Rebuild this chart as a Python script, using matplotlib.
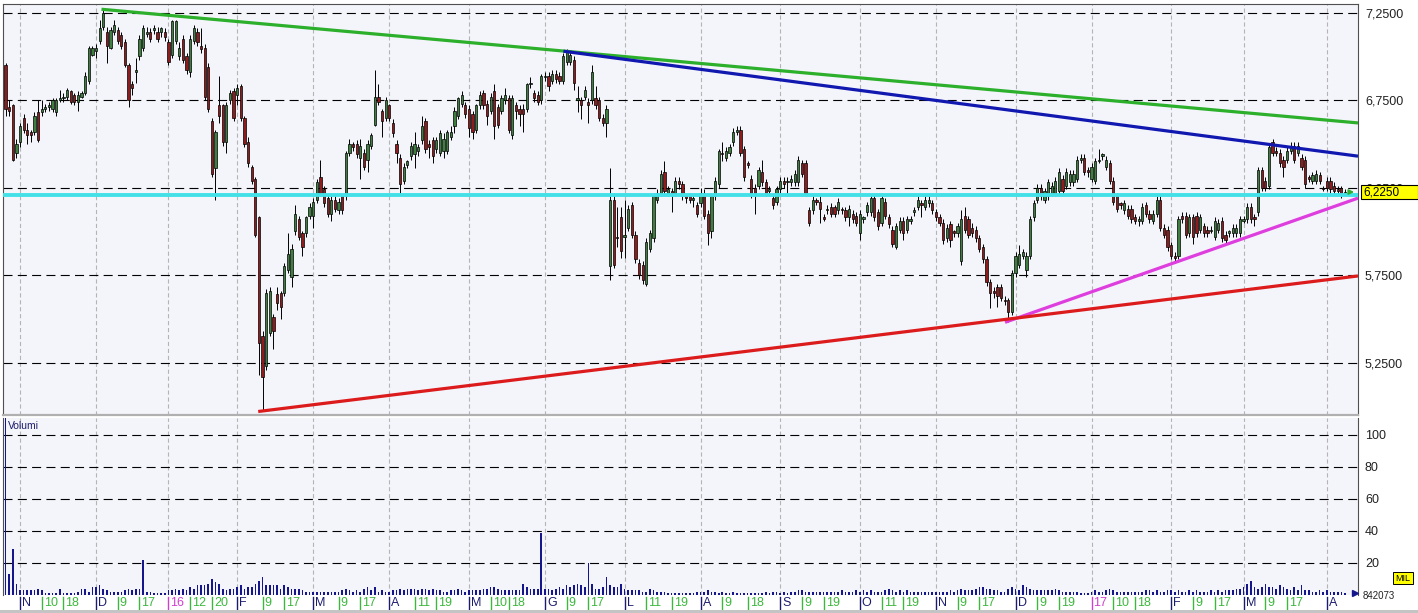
import matplotlib
matplotlib.use("Agg")
import matplotlib.pyplot as plt
import matplotlib.transforms as mtransforms
from matplotlib.patches import Rectangle
import numpy as np

# daily candles (trading-day index 0..370), prices in EUR
opens = [
    6.95, 6.71, 6.72, 6.45, 6.51, 6.65, 6.58, 6.57, 6.57, 6.68,
    6.68, 6.70, 6.71, 6.70, 6.68, 6.75, 6.76, 6.77, 6.80, 6.78,
    6.74, 6.77, 6.79, 6.86, 7.01, 7.03, 7.09, 7.17, 7.14, 7.05,
    7.14, 7.15, 7.12, 7.08, 6.95, 6.84, 6.91, 7.00, 7.05, 7.13,
    7.14, 7.15, 7.14, 7.14, 7.14, 7.08, 7.01, 7.09, 7.00, 7.10,
    7.00, 6.91, 7.09, 7.14, 7.06, 7.05, 6.94, 6.63, 6.36, 6.72,
    6.72, 6.51, 6.75, 6.80, 6.78, 6.83, 6.65, 6.51, 6.37, 6.30,
    6.08, 5.40, 5.23, 5.42, 5.51, 5.64, 5.65, 5.65, 5.78, 5.74,
    6.00, 6.07, 5.99, 5.99, 6.09, 6.09, 6.18, 6.31, 6.24, 6.19,
    6.10, 6.18, 6.12, 6.20, 6.20, 6.45, 6.50, 6.50, 6.42, 6.45,
    6.41, 6.49, 6.61, 6.77, 6.69, 6.65, 6.72, 6.62, 6.50, 6.42,
    6.29, 6.38, 6.43, 6.44, 6.46, 6.52, 6.63, 6.50, 6.52, 6.47,
    6.45, 6.46, 6.46, 6.54, 6.60, 6.66, 6.73, 6.72, 6.70, 6.67,
    6.58, 6.72, 6.79, 6.73, 6.69, 6.80, 6.71, 6.69, 6.75, 6.76,
    6.55, 6.72, 6.70, 6.70, 6.70, 6.84, 6.79, 6.78, 6.75, 6.88,
    6.89, 6.86, 6.90, 6.89, 6.86, 6.97, 6.97, 6.98, 6.75, 6.75,
    6.77, 6.74, 6.75, 6.76, 6.75, 6.65, 6.62, 5.80, 6.18, 5.97,
    6.08, 5.97, 6.02, 6.15, 5.98, 5.82, 5.81, 5.70, 5.90, 5.96,
    6.18, 6.22, 6.34, 6.22, 6.23, 6.22, 6.29, 6.27, 6.20, 6.20,
    6.18, 6.15, 6.16, 6.22, 6.10, 6.00, 6.20, 6.27, 6.45, 6.42,
    6.45, 6.51, 6.57, 6.58, 6.47, 6.39, 6.30, 6.25, 6.26, 6.34,
    6.28, 6.23, 6.19, 6.17, 6.24, 6.29, 6.28, 6.28, 6.28, 6.28,
    6.39, 6.39, 6.12, 6.12, 6.18, 6.17, 6.08, 6.12, 6.14, 6.14,
    6.12, 6.13, 6.12, 6.08, 6.10, 6.09, 5.99, 6.07, 6.11, 6.11,
    6.19, 6.11, 6.05, 6.17, 6.08, 6.01, 5.91, 6.01, 6.06, 6.01,
    6.06, 6.11, 6.14, 6.16, 6.14, 6.16, 6.16, 6.11, 6.08, 6.05,
    5.96, 6.04, 6.00, 5.99, 5.83, 6.09, 6.07, 6.02, 6.01, 5.96,
    5.91, 5.84, 5.71, 5.66, 5.68, 5.68, 5.61, 5.61, 5.54, 5.76,
    5.81, 5.86, 5.78, 5.86, 6.08, 6.18, 6.25, 6.18, 6.20, 6.22,
    6.22, 6.23, 6.30, 6.26, 6.28, 6.28, 6.30, 6.41, 6.42, 6.35,
    6.30, 6.29, 6.40, 6.43, 6.37, 6.39, 6.29, 6.20, 6.16, 6.12,
    6.13, 6.13, 6.08, 6.06, 6.06, 6.15, 6.10, 6.06, 6.10, 6.18,
    6.02, 6.01, 5.92, 5.86, 5.86, 6.09, 6.09, 5.99, 6.08, 6.09,
    6.01, 6.03, 6.01, 6.00, 5.97, 6.01, 6.06, 5.98, 5.99, 5.99,
    5.99, 5.99, 6.06, 6.07, 6.14, 6.08, 6.11, 6.35, 6.29, 6.26,
    6.51, 6.46, 6.45, 6.41, 6.41, 6.46, 6.49, 6.45, 6.42, 6.41,
    6.31, 6.29, 6.29, 6.32, 6.25, 6.29, 6.29, 6.26, 6.24, 6.25, 6.215,
]
highs = [
    6.96, 6.75, 6.73, 6.53, 6.62, 6.67, 6.62, 6.58, 6.68, 6.75,
    6.75, 6.73, 6.74, 6.76, 6.76, 6.81, 6.79, 6.82, 6.81, 6.79,
    6.80, 6.80, 6.91, 7.06, 7.06, 7.07, 7.21, 7.27, 7.17, 7.17,
    7.21, 7.17, 7.14, 7.10, 6.96, 6.86, 6.99, 7.12, 7.18, 7.17,
    7.16, 7.18, 7.17, 7.17, 7.16, 7.10, 7.21, 7.21, 7.08, 7.12,
    7.02, 7.12, 7.18, 7.16, 7.16, 7.07, 6.96, 6.65, 6.58, 6.89,
    6.73, 6.74, 6.81, 6.82, 6.84, 6.84, 6.66, 6.54, 6.38, 6.31,
    6.09, 5.43, 5.67, 5.68, 5.53, 5.68, 5.66, 5.82, 5.99, 5.93,
    6.15, 6.09, 6.00, 6.09, 6.16, 6.19, 6.30, 6.41, 6.26, 6.21,
    6.20, 6.20, 6.19, 6.21, 6.46, 6.53, 6.51, 6.52, 6.53, 6.47,
    6.52, 6.56, 6.92, 6.84, 6.70, 6.77, 6.73, 6.64, 6.52, 6.44,
    6.39, 6.41, 6.51, 6.57, 6.50, 6.66, 6.65, 6.52, 6.54, 6.54,
    6.58, 6.56, 6.58, 6.60, 6.71, 6.77, 6.80, 6.74, 6.72, 6.69,
    6.73, 6.80, 6.81, 6.75, 6.79, 6.84, 6.73, 6.78, 6.82, 6.78,
    6.78, 6.74, 6.72, 6.73, 6.85, 6.88, 6.81, 6.80, 6.90, 6.91,
    6.91, 6.92, 6.92, 6.91, 7.02, 7.04, 7.03, 7.00, 6.83, 6.77,
    6.83, 6.76, 6.95, 6.83, 6.77, 6.67, 6.72, 6.36, 6.22, 6.14,
    6.14, 6.18, 6.15, 6.17, 6.00, 5.84, 5.83, 5.96, 6.01, 6.22,
    6.24, 6.35, 6.40, 6.26, 6.25, 6.31, 6.31, 6.29, 6.21, 6.22,
    6.20, 6.17, 6.25, 6.24, 6.12, 6.22, 6.31, 6.47, 6.51, 6.48,
    6.50, 6.59, 6.60, 6.60, 6.49, 6.40, 6.32, 6.27, 6.37, 6.41,
    6.30, 6.26, 6.21, 6.26, 6.31, 6.31, 6.31, 6.32, 6.35, 6.43,
    6.41, 6.41, 6.14, 6.20, 6.19, 6.20, 6.10, 6.15, 6.16, 6.15,
    6.19, 6.14, 6.14, 6.15, 6.12, 6.11, 6.12, 6.09, 6.17, 6.21,
    6.21, 6.13, 6.21, 6.19, 6.10, 6.03, 6.05, 6.08, 6.08, 6.09,
    6.09, 6.14, 6.20, 6.18, 6.20, 6.20, 6.18, 6.13, 6.10, 6.07,
    6.04, 6.06, 6.01, 6.05, 6.12, 6.14, 6.09, 6.05, 6.03, 5.98,
    5.93, 5.86, 5.73, 5.68, 5.70, 5.70, 5.63, 5.62, 5.78, 5.88,
    5.92, 5.90, 5.88, 6.09, 6.18, 6.27, 6.27, 6.25, 6.30, 6.28,
    6.31, 6.36, 6.32, 6.36, 6.35, 6.35, 6.43, 6.44, 6.44, 6.37,
    6.39, 6.42, 6.47, 6.45, 6.43, 6.41, 6.31, 6.22, 6.17, 6.18,
    6.15, 6.15, 6.10, 6.09, 6.16, 6.17, 6.12, 6.12, 6.20, 6.20,
    6.04, 6.03, 5.94, 5.88, 6.09, 6.11, 6.11, 6.10, 6.10, 6.11,
    6.10, 6.05, 6.03, 6.03, 6.08, 6.07, 6.08, 6.00, 6.01, 6.04,
    6.04, 6.09, 6.09, 6.16, 6.16, 6.10, 6.37, 6.37, 6.31, 6.50,
    6.53, 6.48, 6.47, 6.43, 6.48, 6.51, 6.51, 6.51, 6.44, 6.43,
    6.32, 6.34, 6.35, 6.34, 6.26, 6.31, 6.31, 6.28, 6.26, 6.26, 6.24,
]
lows = [
    6.66, 6.66, 6.40, 6.42, 6.48, 6.56, 6.50, 6.51, 6.55, 6.51,
    6.66, 6.68, 6.69, 6.68, 6.66, 6.74, 6.74, 6.75, 6.73, 6.72,
    6.69, 6.76, 6.78, 6.84, 7.00, 6.99, 7.07, 7.15, 6.96, 7.04,
    7.12, 7.07, 7.04, 6.94, 6.71, 6.78, 6.85, 6.98, 7.03, 7.11,
    7.08, 7.13, 7.08, 7.11, 7.09, 6.95, 6.99, 7.07, 6.98, 6.96,
    6.90, 6.88, 7.07, 7.06, 7.02, 6.75, 6.68, 6.31, 6.18, 6.62,
    6.49, 6.45, 6.73, 6.63, 6.72, 6.63, 6.48, 6.37, 6.27, 5.97,
    5.18, 4.98, 5.21, 5.40, 5.33, 5.55, 5.50, 5.63, 5.76, 5.68,
    5.98, 5.95, 5.86, 5.97, 6.07, 6.02, 6.16, 6.20, 6.14, 6.08,
    6.06, 6.11, 6.10, 6.10, 6.18, 6.43, 6.46, 6.42, 6.30, 6.35,
    6.34, 6.47, 6.60, 6.72, 6.54, 6.63, 6.63, 6.54, 6.39, 6.22,
    6.27, 6.36, 6.41, 6.36, 6.43, 6.50, 6.45, 6.42, 6.39, 6.45,
    6.43, 6.42, 6.44, 6.52, 6.56, 6.64, 6.71, 6.65, 6.54, 6.53,
    6.56, 6.70, 6.70, 6.61, 6.67, 6.53, 6.59, 6.67, 6.73, 6.56,
    6.53, 6.64, 6.60, 6.57, 6.68, 6.82, 6.74, 6.72, 6.73, 6.86,
    6.80, 6.84, 6.85, 6.84, 6.84, 6.95, 6.95, 6.81, 6.68, 6.64,
    6.75, 6.62, 6.73, 6.70, 6.63, 6.60, 6.54, 5.72, 5.79, 5.91,
    5.85, 5.85, 6.00, 5.96, 5.82, 5.73, 5.70, 5.69, 5.88, 5.94,
    6.16, 6.20, 6.21, 6.20, 6.11, 6.20, 6.24, 6.18, 6.16, 6.16,
    6.14, 6.08, 6.14, 6.07, 5.92, 5.96, 6.18, 6.25, 6.40, 6.40,
    6.43, 6.49, 6.55, 6.43, 6.29, 6.36, 6.19, 6.10, 6.24, 6.26,
    6.20, 6.21, 6.13, 6.15, 6.22, 6.25, 6.20, 6.26, 6.26, 6.26,
    6.31, 6.20, 6.03, 6.10, 6.15, 6.05, 6.06, 6.10, 6.08, 6.08,
    6.10, 6.10, 6.06, 6.03, 6.05, 6.03, 5.95, 6.05, 6.09, 6.09,
    6.06, 6.01, 6.03, 6.07, 6.02, 5.91, 5.90, 5.99, 5.95, 5.99,
    6.04, 6.09, 6.12, 6.08, 6.12, 6.14, 6.10, 6.06, 6.03, 5.93,
    5.94, 5.91, 5.97, 5.97, 5.81, 5.99, 5.96, 5.97, 5.94, 5.88,
    5.82, 5.69, 5.56, 5.62, 5.57, 5.60, 5.58, 5.48, 5.52, 5.74,
    5.79, 5.84, 5.74, 5.84, 6.06, 6.16, 6.18, 6.16, 6.18, 6.20,
    6.20, 6.21, 6.21, 6.24, 6.26, 6.26, 6.28, 6.39, 6.32, 6.31,
    6.28, 6.27, 6.39, 6.41, 6.35, 6.27, 6.15, 6.11, 6.13, 6.10,
    6.07, 6.05, 6.04, 6.03, 6.04, 6.08, 6.05, 6.04, 6.08, 6.00,
    5.96, 5.89, 5.84, 5.82, 5.84, 6.05, 5.96, 5.97, 5.93, 5.97,
    5.99, 5.97, 5.97, 5.99, 5.95, 5.99, 5.94, 5.93, 5.97, 5.97,
    5.97, 5.97, 6.05, 6.05, 6.05, 6.03, 6.09, 6.23, 6.23, 6.24,
    6.43, 6.43, 6.37, 6.31, 6.39, 6.44, 6.39, 6.43, 6.35, 6.25,
    6.28, 6.27, 6.27, 6.27, 6.23, 6.23, 6.22, 6.21, 6.21, 6.19, 6.21,
]
closes = [
    6.70, 6.69, 6.41, 6.50, 6.60, 6.58, 6.55, 6.55, 6.66, 6.52,
    6.70, 6.71, 6.72, 6.75, 6.75, 6.76, 6.77, 6.81, 6.74, 6.74,
    6.78, 6.79, 6.89, 7.05, 7.05, 7.05, 7.16, 7.25, 7.06, 7.15,
    7.18, 7.09, 7.06, 6.95, 6.75, 6.82, 6.92, 7.10, 7.16, 7.14,
    7.10, 7.16, 7.10, 7.16, 7.11, 6.97, 7.20, 7.20, 7.05, 6.98,
    6.92, 7.10, 7.16, 7.08, 7.04, 6.77, 6.70, 6.33, 6.57, 6.66,
    6.51, 6.72, 6.79, 6.65, 6.82, 6.65, 6.50, 6.39, 6.29, 5.98,
    5.36, 5.17, 5.65, 5.66, 5.43, 5.59, 5.57, 5.80, 5.87, 5.90,
    6.10, 5.97, 5.91, 6.08, 6.14, 6.17, 6.28, 6.22, 6.16, 6.10,
    6.18, 6.13, 6.17, 6.12, 6.45, 6.50, 6.48, 6.44, 6.49, 6.37,
    6.50, 6.55, 6.77, 6.74, 6.63, 6.75, 6.65, 6.56, 6.45, 6.27,
    6.37, 6.40, 6.49, 6.50, 6.48, 6.60, 6.47, 6.48, 6.43, 6.52,
    6.56, 6.53, 6.57, 6.57, 6.69, 6.76, 6.78, 6.67, 6.59, 6.57,
    6.72, 6.78, 6.72, 6.66, 6.77, 6.60, 6.61, 6.76, 6.78, 6.58,
    6.76, 6.69, 6.67, 6.67, 6.84, 6.85, 6.76, 6.74, 6.89, 6.89,
    6.83, 6.90, 6.87, 6.86, 7.00, 7.03, 7.01, 6.85, 6.76, 6.72,
    6.81, 6.72, 6.91, 6.72, 6.65, 6.62, 6.70, 6.18, 5.81, 5.96,
    5.89, 5.98, 6.13, 5.98, 5.84, 5.75, 5.72, 5.94, 5.99, 6.20,
    6.22, 6.33, 6.23, 6.24, 6.22, 6.29, 6.27, 6.20, 6.19, 6.18,
    6.19, 6.10, 6.22, 6.09, 5.99, 6.20, 6.29, 6.46, 6.44, 6.46,
    6.48, 6.57, 6.58, 6.45, 6.31, 6.38, 6.22, 6.22, 6.35, 6.28,
    6.22, 6.24, 6.15, 6.24, 6.29, 6.27, 6.29, 6.30, 6.33, 6.41,
    6.33, 6.22, 6.05, 6.18, 6.17, 6.13, 6.07, 6.13, 6.10, 6.10,
    6.17, 6.12, 6.08, 6.13, 6.07, 6.05, 6.10, 6.08, 6.15, 6.19,
    6.08, 6.03, 6.19, 6.09, 6.04, 5.93, 6.03, 6.06, 5.99, 6.07,
    6.07, 6.12, 6.18, 6.15, 6.18, 6.18, 6.12, 6.08, 6.05, 5.95,
    6.02, 5.95, 5.99, 6.03, 6.07, 6.01, 5.98, 5.99, 5.96, 5.90,
    5.84, 5.71, 5.65, 5.65, 5.63, 5.62, 5.60, 5.54, 5.76, 5.86,
    5.87, 5.88, 5.86, 6.07, 6.16, 6.25, 6.20, 6.23, 6.28, 6.26,
    6.29, 6.34, 6.23, 6.34, 6.33, 6.33, 6.41, 6.42, 6.34, 6.34,
    6.37, 6.40, 6.41, 6.44, 6.41, 6.29, 6.17, 6.13, 6.15, 6.16,
    6.09, 6.07, 6.06, 6.07, 6.14, 6.10, 6.07, 6.10, 6.18, 6.02,
    5.98, 5.91, 5.86, 5.85, 6.07, 6.07, 5.98, 6.08, 5.97, 5.99,
    6.08, 5.99, 5.99, 6.01, 6.06, 6.05, 5.96, 5.95, 6.00, 6.02,
    6.02, 6.07, 6.07, 6.14, 6.07, 6.07, 6.35, 6.25, 6.25, 6.48,
    6.45, 6.45, 6.39, 6.37, 6.46, 6.49, 6.41, 6.49, 6.37, 6.27,
    6.30, 6.32, 6.33, 6.29, 6.24, 6.25, 6.24, 6.23, 6.23, 6.22, 6.225,
]
# volume, same days
volumes = [
    130, 13, 29, 7, 3, 3, 3, 3, 3, 4,
    3, 1, 1, 1, 1, 4, 1, 1, 1, 1,
    2, 4, 4, 2, 5, 5, 6, 4, 3, 2,
    2, 2, 2, 3, 4, 3, 4, 4, 22, 2,
    2, 1, 1, 1, 1, 3, 3, 4, 3, 4,
    3, 5, 4, 6, 6, 6, 7, 10, 8, 7,
    4, 3, 4, 4, 5, 6, 4, 5, 5, 7,
    9, 11, 6, 6, 6, 6, 4, 6, 5, 4,
    4, 4, 3, 2, 2, 2, 2, 2, 2, 2,
    2, 2, 2, 3, 4, 3, 2, 3, 2, 4,
    5, 3, 5, 2, 3, 2, 2, 3, 3, 4,
    3, 4, 4, 4, 3, 4, 4, 3, 4, 3,
    3, 2, 2, 3, 3, 4, 3, 2, 3, 3,
    3, 3, 4, 4, 5, 5, 4, 3, 3, 3,
    3, 3, 3, 7, 5, 4, 4, 4, 39, 4,
    4, 3, 4, 5, 4, 6, 5, 6, 7, 6,
    5, 20, 7, 4, 4, 5, 11, 6, 5, 5,
    7, 4, 3, 3, 3, 3, 2, 2, 4, 3,
    2, 2, 2, 1, 1, 1, 1, 1, 1, 1,
    1, 2, 2, 2, 3, 2, 2, 1, 2, 1,
    1, 2, 1, 1, 1, 1, 1, 1, 1, 1,
    2, 1, 2, 2, 1, 2, 1, 2, 2, 3,
    3, 2, 2, 2, 2, 2, 2, 2, 2, 2,
    2, 3, 2, 2, 2, 3, 2, 3, 2, 3,
    2, 2, 2, 3, 4, 3, 2, 3, 2, 3,
    2, 2, 2, 2, 2, 2, 2, 2, 2, 2,
    2, 3, 2, 3, 4, 3, 3, 3, 4, 5,
    5, 4, 4, 3, 3, 2, 2, 4, 5, 4,
    3, 6, 5, 4, 3, 3, 3, 3, 3, 3,
    4, 3, 2, 2, 2, 2, 2, 1, 1, 1,
    2, 3, 2, 2, 3, 4, 3, 2, 2, 2,
    2, 2, 2, 2, 2, 3, 3, 2, 3, 2,
    2, 3, 3, 2, 3, 2, 2, 3, 2, 3,
    2, 2, 2, 3, 2, 3, 2, 3, 3, 3,
    4, 4, 5, 7, 9, 5, 4, 5, 7, 5,
    5, 4, 6, 5, 4, 3, 5, 3, 6, 3,
    3, 2, 2, 3, 2, 3, 2, 2, 2, 2, 1,
]

# date axis: trading-day index of each label
date_ticks = [4, 10, 16, 25, 31, 37, 45, 51, 57, 64, 71, 77, 85, 92, 98, 106, 113, 119,
              128, 134, 139, 149, 155, 161, 171, 177, 184, 192, 198, 205, 214, 220, 226,
              236, 242, 248, 257, 263, 269, 279, 285, 291, 300, 306, 312, 322, 328, 334,
              342, 348, 354, 365]
date_labels = ["N", "10", "18", "D", "9", "17", "16", "12", "20", "F", "9", "17", "M", "9",
               "17", "A", "11", "19", "M", "10", "18", "G", "9", "17", "L", "11", "19", "A",
               "9", "18", "S", "9", "19", "O", "11", "19", "N", "9", "17", "D", "9", "19",
               "17", "10", "18", "F", "9", "17", "M", "9", "17", "A"]
year_ticks = [45, 300]

price_levels = [5.25, 5.75, 6.25, 6.75, 7.25]
volume_levels = [20, 40, 60, 80, 100]

# hand-drawn trend lines: (day, price) -> (day, price)
line_green = [(26.5, 7.27), (373.6, 6.62)]
line_blue = [(154.1, 7.03), (373.6, 6.43)]
line_magenta = [(276.1, 5.48), (373.6, 6.19)]
line_red = [(69.8, 4.97), (373.6, 5.745)]
support_level = 6.21
last_price = 6.225
last_volume = "842073"

plt.rcParams["font.family"] = ["Liberation Sans", "DejaVu Sans"]
plt.rcParams["lines.scale_dashes"] = False

W, H = 1418, 613
BG = "#F4F4FB"
UP, DOWN = "#3E7E3E", "#8E1C1C"
VOL = "#16168C"
MONTH_C, DAY_C, YEAR_C = "#1C1C6E", "#3DB83D", "#D040D0"


def px_box(left, top, right, bottom):
    return [left / W, 1 - bottom / H, (right - left) / W, (bottom - top) / H]


def price_fmt(v):
    return f"{v:.4f}".replace(".", ",")


fig = plt.figure(figsize=(W / 100, H / 100), dpi=100)
fig.patch.set_facecolor("white")
ax = fig.add_axes(px_box(3, 4, 1358, 415))
axv = fig.add_axes(px_box(3, 418, 1358, 595), sharex=ax)

o, h, l, c = map(np.array, (opens, highs, lows, closes))
x = np.arange(len(o))
month_starts = [d for d, t in zip(date_ticks, date_labels) if t.isalpha() or d in year_ticks]

for a in (ax, axv):
    a.set_facecolor(BG)
    for d in month_starts:
        a.axvline(d, color="#B4B4B4", lw=0.8, ls=(0, (3, 2)), zorder=1)

# price panel
for lev in price_levels:
    ax.axhline(lev, color="black", lw=0.8, ls=(0, (6.5, 3.8)), zorder=2)
ax.vlines(x, l, h, color="black", lw=0.7, zorder=3)
ax.bar(x, np.maximum(np.abs(c - o), 0.006), bottom=np.minimum(o, c), width=0.62,
       color=np.where(c >= o, UP, DOWN), edgecolor="black", linewidth=0.5, zorder=4)

for pts, col in ((line_green, "#2CB02C"), (line_blue, "#1018B0"),
                 (line_magenta, "#DE3EDE"), (line_red, "#DC1C1C")):
    (x0, y0), (x1, y1) = pts
    ax.plot([x0, x1], [y0, y1], color=col, lw=2.3, solid_capstyle="butt", zorder=6)
ax.axhline(support_level, color="#44E0E8", lw=2.8, zorder=6)

ax.set_xlim(-0.7, 373.6)
ax.set_ylim(4.95, 7.30)
ax.yaxis.tick_right()
ax.set_yticks(price_levels)
ax.set_yticklabels([price_fmt(v) for v in price_levels])
ax.tick_params(axis="y", length=0, pad=5, labelsize=9, colors="#222222")
ax.tick_params(axis="x", bottom=False, labelbottom=False)
for side in ("top", "left", "right"):
    ax.spines[side].set_color("#505050")
ax.spines["bottom"].set_color("#B0B0B0")
ax.spines["bottom"].set_linewidth(1.6)

# last price marker
tr = mtransforms.blended_transform_factory(fig.transFigure, ax.transData)
ax.add_patch(Rectangle((1361 / W, last_price - 0.042), 57 / W, 0.084, transform=tr,
                       facecolor="#FFFF00", edgecolor="black", lw=0.8, clip_on=False, zorder=8))
ax.text(1363 / W, last_price, price_fmt(last_price), transform=tr, fontsize=8.5,
        va="center", ha="left", color="black", zorder=9)
ax.annotate("", xy=(373.3, last_price), xytext=(370.6, last_price),
            arrowprops=dict(arrowstyle="-|>", color="#2CB02C", lw=1.3, mutation_scale=7),
            annotation_clip=False, zorder=9)

# volume panel
for lev in volume_levels:
    axv.axhline(lev, color="black", lw=0.8, ls=(0, (6.5, 3.8)), zorder=2)
axv.bar(x, volumes, width=0.45, color=VOL, zorder=3)
axv.set_ylim(0, 110.6)
axv.yaxis.tick_right()
axv.set_yticks(volume_levels)
axv.set_yticklabels([str(v) for v in volume_levels])
axv.tick_params(axis="y", length=0, pad=5, labelsize=9, colors="#222222")
axv.tick_params(axis="x", bottom=False, labelbottom=False)
axv.spines["top"].set_visible(False)
axv.spines["bottom"].set_visible(False)
for side in ("left", "right"):
    axv.spines[side].set_color("#505050")
axv.text(0.004, 0.955, "Volumi", transform=axv.transAxes, fontsize=7.5,
         color="#1C1C6E", va="center", ha="left", zorder=5)
axv.plot([372.8], [1.3], marker=">", color=VOL, ms=4.5, clip_on=False, zorder=5)

trv = mtransforms.blended_transform_factory(fig.transFigure, axv.transAxes)
axv.add_patch(Rectangle((1393 / W, 0.06), 20 / W, 0.07, transform=trv,
                        facecolor="#FFFF00", edgecolor="black", lw=0.7, clip_on=False))
axv.text(1403 / W, 0.095, "MIL", transform=trv, fontsize=6.5, ha="center", va="center")
axv.text(1363 / W, -0.005, last_volume, transform=trv, fontsize=7, ha="left",
         va="center", color="#222222")

# date strip
strip = mtransforms.blended_transform_factory(axv.transData, axv.transAxes)
for day, text in zip(date_ticks, date_labels):
    if day in year_ticks:
        col = YEAR_C
    elif text.isalpha():
        col = MONTH_C
    else:
        col = DAY_C
    axv.plot([day, day], [-0.012, -0.08], transform=strip, color=col, lw=1.0, clip_on=False)
    axv.text(day + 0.55, -0.046, text, transform=strip, color=col, fontsize=9,
             va="center", ha="left", clip_on=False)

fig.patches.append(Rectangle((0, 0), 1, 3 / H, transform=fig.transFigure,
                             facecolor="#C4C4C4", edgecolor="none"))

fig.savefig("out.png", dpi=100, facecolor="white")
